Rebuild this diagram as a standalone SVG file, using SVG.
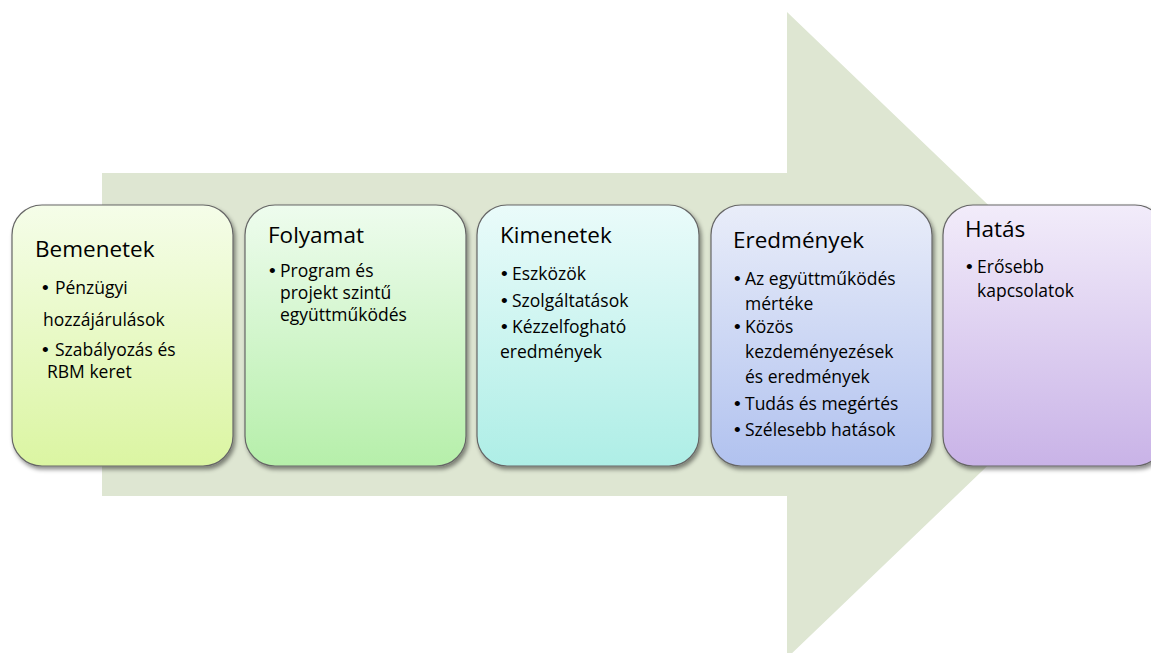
<svg xmlns="http://www.w3.org/2000/svg" width="1151" height="653" viewBox="0 0 1151 653">
<defs>
<style>
.box{stroke:#666;stroke-width:1.2;filter:url(#sh)}
.t{font-family:"Open Sans","Liberation Sans",sans-serif;fill:#000}
.h{font-size:22.5px}
.b{font-size:17.5px}
.d{font-family:"Liberation Sans",sans-serif;font-size:19px}
</style>
<filter id="sh" x="-10%" y="-10%" width="125%" height="125%">
<feDropShadow dx="2" dy="3" stdDeviation="2" flood-color="#000" flood-opacity="0.45"/>
</filter>
<linearGradient id="g1" x1="0" y1="0" x2="0" y2="1"><stop offset="0" stop-color="#f5fde9"/><stop offset="1" stop-color="#dbf5a2"/></linearGradient>
<linearGradient id="g2" x1="0" y1="0" x2="0" y2="1"><stop offset="0" stop-color="#eefcee"/><stop offset="1" stop-color="#b6efaa"/></linearGradient>
<linearGradient id="g3" x1="0" y1="0" x2="0" y2="1"><stop offset="0" stop-color="#eafbfa"/><stop offset="1" stop-color="#aeeee6"/></linearGradient>
<linearGradient id="g4" x1="0" y1="0" x2="0" y2="1"><stop offset="0" stop-color="#e9edf9"/><stop offset="1" stop-color="#b1c2ef"/></linearGradient>
<linearGradient id="g5" x1="0" y1="0" x2="0" y2="1"><stop offset="0" stop-color="#f2ecfa"/><stop offset="1" stop-color="#c9b3e7"/></linearGradient>
</defs>
<rect width="1151" height="653" fill="#fff"/>
<g id="arrow">
<polygon points="102,173 787,173 787,12 1124,335 787,658 787,496 102,496" fill="#dee6d2"/>
</g>
<g id="connectors"></g>
<g id="n1">
<rect class="box" x="12" y="205" width="221" height="261" rx="30" fill="url(#g1)"/>
<text class="t h" x="35" y="257">Bemenetek</text>
<text class="t b" x="42" y="294"><tspan class="d">•</tspan><tspan x="55">Pénzügyi</tspan></text>
<text class="t b" x="43" y="326">hozzájárulások</text>
<text class="t b" x="42" y="356"><tspan class="d">•</tspan><tspan x="55">Szabályozás és</tspan></text>
<text class="t b" x="47" y="378">RBM keret</text>
</g>
<g id="n2">
<rect class="box" x="245" y="205" width="221" height="261" rx="30" fill="url(#g2)"/>
<text class="t h" x="268" y="243">Folyamat</text>
<text class="t b" x="269" y="277"><tspan class="d">•</tspan><tspan x="280">Program és</tspan></text>
<text class="t b" x="280" y="299">projekt szintű</text>
<text class="t b" x="280" y="321">együttműködés</text>
</g>
<g id="n3">
<rect class="box" x="477" y="205" width="222" height="261" rx="30" fill="url(#g3)"/>
<text class="t h" x="500" y="243">Kimenetek</text>
<text class="t b" x="501" y="280"><tspan class="d">•</tspan><tspan x="512">Eszközök</tspan></text>
<text class="t b" x="501" y="307"><tspan class="d">•</tspan><tspan x="512">Szolgáltatások</tspan></text>
<text class="t b" x="501" y="333"><tspan class="d">•</tspan><tspan x="512">Kézzelfogható</tspan></text>
<text class="t b" x="500" y="358">eredmények</text>
</g>
<g id="n4">
<rect class="box" x="711" y="205" width="221" height="261" rx="30" fill="url(#g4)"/>
<text class="t h" x="733" y="248">Eredmények</text>
<text class="t b" x="734" y="285"><tspan class="d">•</tspan><tspan x="745">Az együttműködés</tspan></text>
<text class="t b" x="745" y="310">mértéke</text>
<text class="t b" x="734" y="333"><tspan class="d">•</tspan><tspan x="745">Közös</tspan></text>
<text class="t b" x="745" y="358">kezdeményezések</text>
<text class="t b" x="745" y="383">és eredmények</text>
<text class="t b" x="734" y="410"><tspan class="d">•</tspan><tspan x="745">Tudás és megértés</tspan></text>
<text class="t b" x="734" y="436"><tspan class="d">•</tspan><tspan x="745">Szélesebb hatások</tspan></text>
</g>
<g id="n5">
<rect class="box" x="943" y="205" width="222" height="261" rx="30" fill="url(#g5)"/>
<text class="t h" x="965" y="237">Hatás</text>
<text class="t b" x="966" y="273"><tspan class="d">•</tspan><tspan x="977">Erősebb</tspan></text>
<text class="t b" x="977" y="297">kapcsolatok</text>
</g>
</svg>
